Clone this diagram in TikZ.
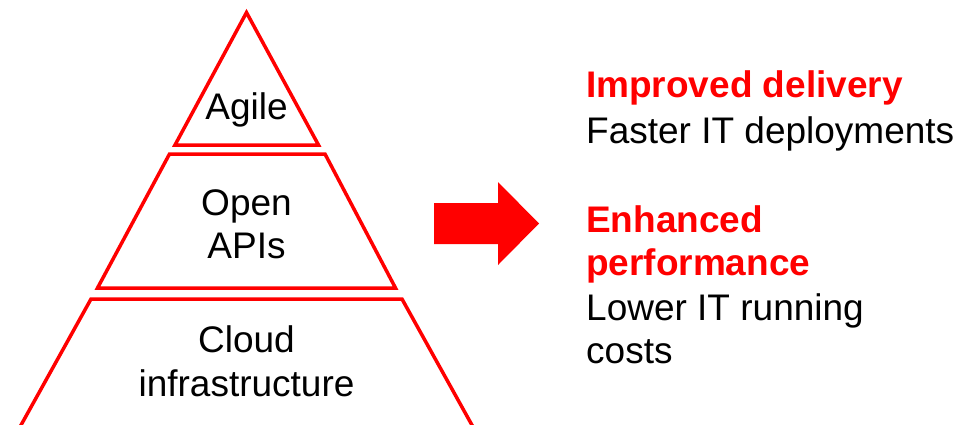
\documentclass[tikz,border=0pt]{standalone}
\usepackage{fontspec}
\setmainfont{Liberation Sans}
\definecolor{vred}{RGB}{255,0,0}
\begin{document}
\begin{tikzpicture}[x=1pt,y=-1pt,
  layer/.style={draw=vred,line width=3.5pt,line join=miter},
  lbl/.style={anchor=base,inner sep=0pt,font=\fontsize{37}{44}\selectfont},
  head/.style={anchor=base west,inner sep=0pt,text=vred,font=\fontsize{37}{44}\selectfont\bfseries},
  body/.style={anchor=base west,inner sep=0pt,font=\fontsize{37}{44}\selectfont}]
\useasboundingbox (0,0) rectangle (971,424);
\begin{scope}
\clip (0,0) rectangle (971,424);
\draw[layer] (246.5,12.5) -- (318.5,145) -- (175,145) -- cycle;
\draw[layer] (169.5,154) -- (325,154) -- (395.5,288) -- (97.5,288) -- cycle;
\draw[layer] (91,299) -- (402,299) -- (485.8,450) -- (7.2,450) -- cycle;
\end{scope}
\fill[vred] (434,203) -- (498,203) -- (498,182) -- (539,223.5) -- (498,265) -- (498,244) -- (434,244) -- cycle;
\node[lbl] (agile) at (246.5,119) {Agile};
\node[lbl] (open) at (246.5,215) {Open};
\node[lbl] (apis) at (246.5,258) {APIs};
\node[lbl] (cloud) at (246.5,352) {Cloud};
\node[lbl] (infra) at (246.5,396) {infrastructure};
\node[head] (h1) at (586,97) {Improved delivery};
\node[body] (b1) at (586,143) {Faster IT deployments};
\node[head] (h2a) at (586,232) {Enhanced};
\node[head] (h2b) at (586,275) {performance};
\node[body] (b2a) at (586,320) {Lower IT running};
\node[body] (b2b) at (586,363) {costs};
\end{tikzpicture}
\end{document}
